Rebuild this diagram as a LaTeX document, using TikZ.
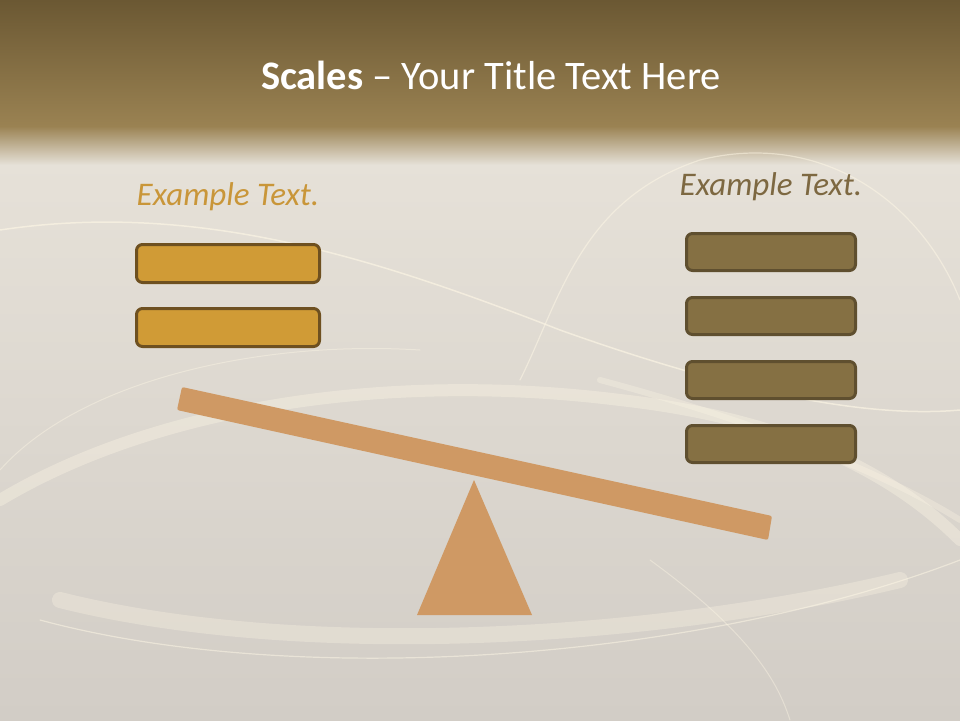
\documentclass[tikz,border=0pt]{standalone}
\usepackage{fontspec}
\setmainfont{Carlito}
\usetikzlibrary{positioning}

\definecolor{banddark}{HTML}{6B5833}
\definecolor{bandlight}{HTML}{9A8252}
\definecolor{paper}{HTML}{E6E1D8}
\definecolor{papergrey}{HTML}{D2CDC6}
\definecolor{gold}{HTML}{D09B36}
\definecolor{goldedge}{HTML}{6E5020}
\definecolor{olive}{HTML}{857043}
\definecolor{oliveedge}{HTML}{5F4F2F}
\definecolor{tan}{HTML}{CF9964}
\definecolor{goldtext}{HTML}{C99639}
\definecolor{olivetext}{HTML}{7D6841}
\definecolor{glow}{HTML}{FFF8E6}

\begin{document}
\begin{tikzpicture}[
    x=1pt, y=-1pt,
    leftbar/.style={rectangle, rounded corners=6pt, draw=goldedge, line width=3pt, fill=gold, minimum width=183pt, minimum height=38pt, inner sep=0pt},
    rightbar/.style={rectangle, rounded corners=6pt, draw=oliveedge, line width=3pt, fill=olive, minimum width=169pt, minimum height=37pt, inner sep=0pt},
    heading/.style={font=\fontsize{33}{40}\selectfont\itshape, inner sep=0pt},
    swirl/.style={draw=glow, line cap=round}
]
\useasboundingbox (0,0) rectangle (960,720);

% Hintergrund
\fill[paper] (0,0) rectangle (960,720);
\shade[top color=paper, bottom color=papergrey] (0,160) rectangle (960,720);
\shade[top color=banddark, bottom color=bandlight] (0,0) rectangle (960,126);
\shade[top color=bandlight, bottom color=paper] (0,126) rectangle (960,165);

% Lichtbahnen
\draw[swirl, opacity=.35, line width=12pt] (0,500) .. controls (150,410) and (380,370) .. (620,400) .. controls (800,420) and (900,480) .. (960,540);
\draw[swirl, opacity=.6, line width=1.5pt] (0,230) .. controls (200,200) and (380,260) .. (560,330) .. controls (700,380) and (850,420) .. (960,410);
\draw[swirl, opacity=.5, line width=1.2pt] (40,620) .. controls (300,690) and (700,660) .. (960,560);
\draw[swirl, opacity=.3, line width=16pt] (60,600) .. controls (300,660) and (650,640) .. (900,580);
\draw[swirl, opacity=.5, line width=1.2pt] (520,380) .. controls (560,300) and (580,200) .. (700,160) .. controls (820,130) and (920,200) .. (960,300);
\draw[swirl, opacity=.4, line width=1pt] (0,470) .. controls (80,380) and (260,340) .. (420,350);
\draw[swirl, opacity=.4, line width=1pt] (650,560) .. controls (760,640) and (780,690) .. (790,720);
\draw[swirl, opacity=.3, line width=6pt] (600,380) .. controls (750,420) and (880,470) .. (960,520);

% Titel
\node[font=\fontsize{40.5}{48}\selectfont, text=white] (title) at (491,75) {\textbf{Scales} – Your Title Text Here};

% linke Seite
\foreach \i in {1,2} {
    \node[leftbar] (lbar\i) at (228, {263.5+(\i-1)*64}) {};
}
\node[heading, text=goldtext, above=32pt of lbar1] (lhead) {Example Text.};

% rechte Seite
\foreach \i in {1,...,4} {
    \node[rightbar] (rbar\i) at (771, {252+(\i-1)*64}) {};
}
\node[heading, text=olivetext, above=31pt of rbar1] (rhead) {Example Text.};

% Waage
\fill[tan] (474,480) -- (532,615) -- (417,615) -- cycle;
\fill[tan, rounded corners=2pt] (182,387) -- (772,516) -- (768,540) -- (177,410) -- cycle;

\end{tikzpicture}
\end{document}
